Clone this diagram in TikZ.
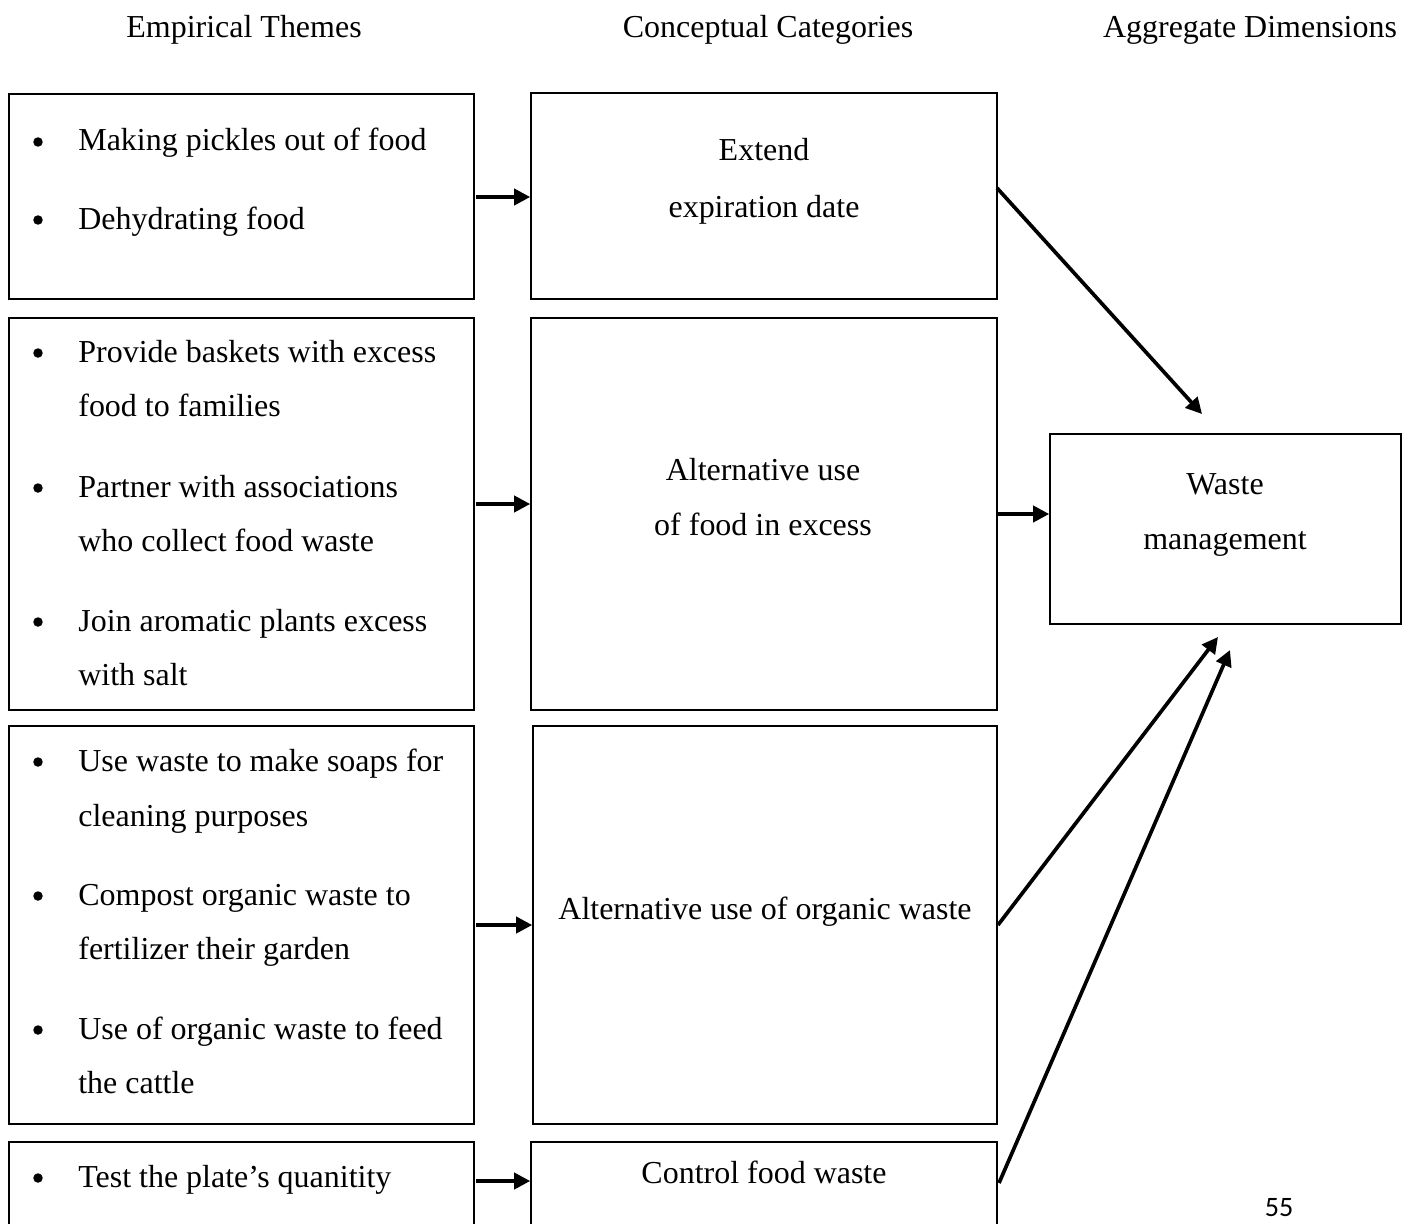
\documentclass[tikz,border=0pt]{standalone}
\usepackage{fontspec}
\setmainfont{Liberation Serif}
\newfontfamily\pagefont{Carlito}
\usetikzlibrary{fit,arrows.meta}
\begin{document}
\begin{tikzpicture}[x=0.02cm,y=-0.02cm,
	>={Triangle[length=0.32cm,width=0.32cm]},
	box/.style={draw,line width=0.9pt,inner sep=0pt},
	flow/.style={->,line width=2.1pt},
	dot/.style={circle,fill,inner sep=0pt,minimum size=0.19cm},
	txt/.style={anchor=base west,inner sep=0pt,font=\fontsize{18.2}{22}\selectfont},
	ctr/.style={anchor=base,inner sep=0pt,font=\fontsize{18.2}{22}\selectfont}]
\clip (0,0) rectangle (1415,1223);
% column heads
\node[ctr] (h1) at (244,38) {Empirical Themes};
\node[ctr] (h2) at (768,38) {Conceptual Categories};
\node[ctr] (h3) at (1250,38) {Aggregate Dimensions};
% empirical themes
\node[box,fit={(9,94) (474,299)}] (e1) {};
\node[box,fit={(9,318) (474,710)}] (e2) {};
\node[box,fit={(9,726) (474,1124)}] (e3) {};
\node[box,fit={(9,1142) (474,1260)}] (e4) {};
\foreach \y in {151,229,362,497,631,771,905,1039,1187}
	\node[dot] (b\y) at (38,\y-9) {};
\foreach \y/\t in {151/Making pickles out of food, 229/Dehydrating food,
	362/Provide baskets with excess, 416/food to families,
	497/Partner with associations, 551/who collect food waste,
	631/Join aromatic plants excess, 685/with salt,
	771/Use waste to make soaps for, 826/cleaning purposes,
	905/Compost organic waste to, 959/fertilizer their garden,
	1039/Use of organic waste to feed, 1093/the cattle,
	1187/Test the plate’s quanitity}
	\node[txt] (t\y) at (78,\y) {\t};
% conceptual categories
\node[box,fit={(531,93) (997,299)}] (c1) {};
\node[box,fit={(531,318) (997,710)}] (c2) {};
\node[box,fit={(533,726) (997,1124)}] (c3) {};
\node[box,fit={(531,1142) (997,1260)}] (c4) {};
\node[ctr] (c1a) at (764,161) {Extend};
\node[ctr] (c1b) at (764,217) {expiration date};
\node[ctr] (c2a) at (763,480) {Alternative use};
\node[ctr] (c2b) at (763,535) {of food in excess};
\node[ctr] (c3a) at (765,919) {Alternative use of organic waste};
\node[ctr] (c4a) at (764,1183) {Control food waste};
% aggregate dimension
\node[box,fit={(1050,434) (1401,624)}] (w) {};
\node[ctr] (wa) at (1225,494) {Waste};
\node[ctr] (wb) at (1225,549) {management};
% page number
\node[anchor=base,inner sep=0pt,font=\pagefont\fontsize{16}{18}\selectfont] (pg) at (1279,1216) {55};
% connectors
\coordinate (f1) at (476,197);
\coordinate (f2) at (476,504);
\coordinate (f3) at (476,925);
\coordinate (f4) at (476,1181);
\draw[flow] (f1) -- (f1 -| c1.west);
\draw[flow] (f2) -- (f2 -| c2.west);
\draw[flow] (f3) -- (f3 -| c3.west);
\draw[flow] (f4) -- (f4 -| c4.west);
\draw[flow] (c2.east) -- (c2.east -| w.west);
\coordinate (s1) at (997,188);
\coordinate (s3) at (998,925);
\coordinate (s4) at (999,1183);
\coordinate (w1) at (1202,414);
\coordinate (w3) at (1218,637);
\coordinate (w4) at (1230,650);
\draw[flow] (s1) -- (w1);
\draw[flow] (s3) -- (w3);
\draw[flow] (s4) -- (w4);
\end{tikzpicture}
\end{document}
